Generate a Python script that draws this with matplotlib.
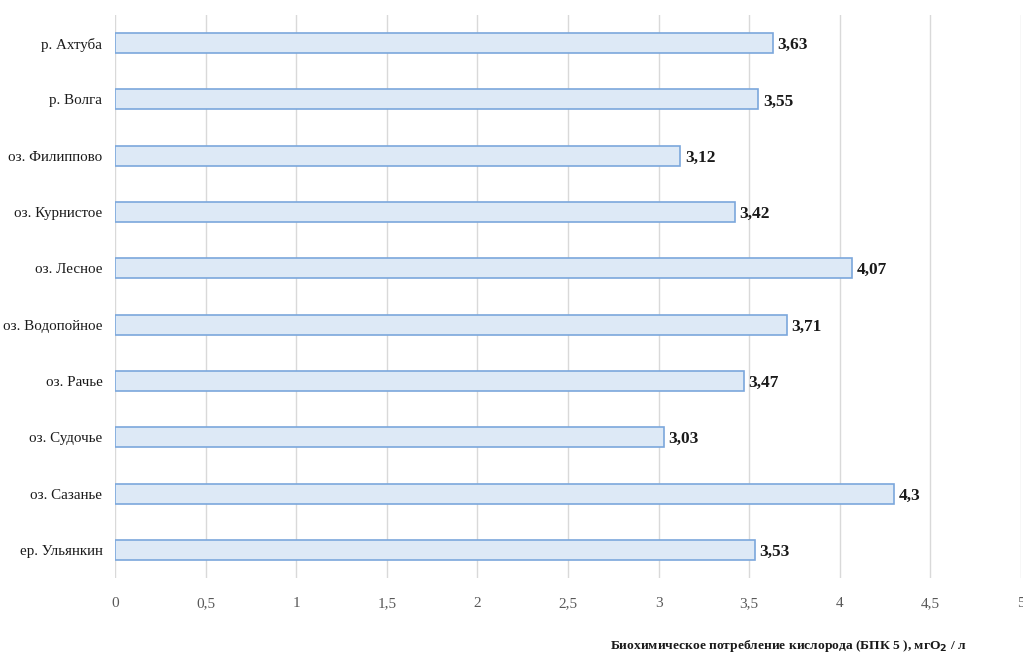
import matplotlib
matplotlib.use("Agg")

import matplotlib.pyplot as plt
from matplotlib.ticker import FuncFormatter

# Sites and BOD5 values (top to bottom)
sites = [
    "р. Ахтуба",
    "р. Волга",
    "оз. Филиппово",
    "оз. Курнистое",
    "оз. Лесное",
    "оз. Водопойное",
    "оз. Рачье",
    "оз. Судочье",
    "оз. Сазанье",
    "ер. Ульянкин",
]
bod5 = [3.63, 3.55, 3.12, 3.42, 4.07, 3.71, 3.47, 3.03, 4.3, 3.53]
value_labels = ["3,63", "3,55", "3,12", "3,42", "4,07", "3,71", "3,47", "3,03", "4,3", "3,53"]
x_ticks = [0, 0.5, 1, 1.5, 2, 2.5, 3, 3.5, 4, 4.5, 5]

C_FILL = "#dde9f6"
C_EDGE = "#7ba7dc"
C_GRID = "#d9d9d9"
C_TICK = "#595959"

plt.rcParams["font.family"] = ["Liberation Serif", "DejaVu Serif"]

fig = plt.figure(figsize=(10.23, 6.57), dpi=100)
ax = fig.add_axes([0.1124, 0.1202, 0.8856, 0.857])

y = list(range(len(sites)))[::-1]
ax.barh(y, bod5, height=0.355, color=C_FILL, edgecolor=C_EDGE, linewidth=1.2, zorder=3)

for yi, v, lab in zip(y, bod5, value_labels):
    ax.text(v + 0.025, yi, lab, va="center_baseline", ha="left", fontsize=12.5,
            fontweight="bold", color="#1a1a1a", zorder=4)

ax.set_xlim(0, 5)
ax.set_ylim(-0.5, len(sites) - 0.5)
ax.set_xticks(x_ticks)
ax.xaxis.set_major_formatter(FuncFormatter(lambda v, _: f"{v:g}".replace(".", ",")))
ax.set_yticks(y)
ax.set_yticklabels(sites)

ax.grid(axis="x", color=C_GRID, lw=1.0, zorder=0)
for s in ax.spines.values():
    s.set_visible(False)
ax.tick_params(axis="x", length=0, pad=14, labelsize=11, labelcolor=C_TICK)
ax.tick_params(axis="y", length=0, pad=9, labelsize=10.8, labelcolor="#1a1a1a")

fig.text(0.596, 0.005, "Биохимическое потребление кислорода (БПК 5 ), мгO$_\\mathbf{2}$ / л",
         fontsize=9.7, fontweight="bold", color="#1a1a1a", ha="left", va="bottom")

fig.savefig("out.png", dpi=100, facecolor="white")
